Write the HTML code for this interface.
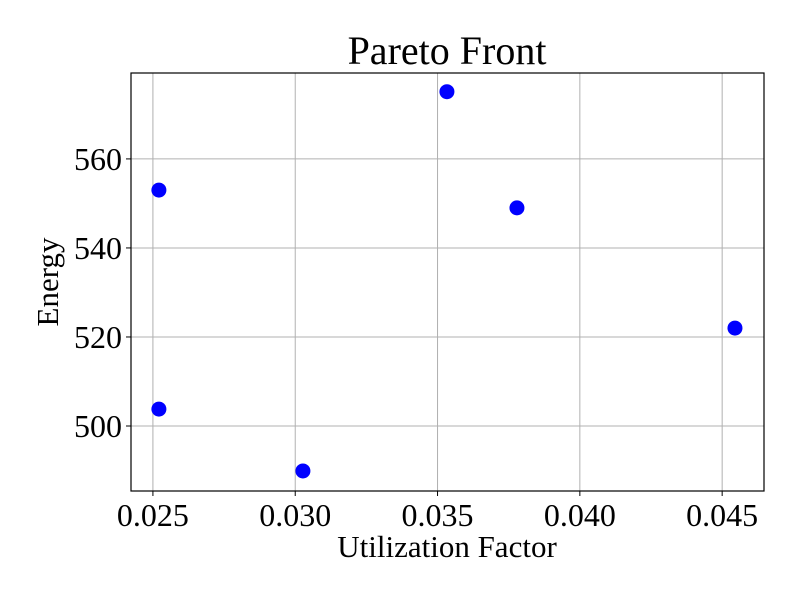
<!DOCTYPE html>
<html><head><meta charset="utf-8"><style>
html,body{margin:0;padding:0;background:#fff;}
svg text{font-family:"Liberation Serif",serif;fill:#000;}
</style></head><body>
<svg id="chart" width="800" height="600" xmlns="http://www.w3.org/2000/svg">
<rect width="800" height="600" fill="#fff"/>
<g id="grid"></g>
<g id="points"></g>
<rect x="131" y="73" width="633" height="418" fill="none" stroke="#000" stroke-width="1.2"/>
<g id="ticks"></g>
<text x="447" y="64" font-size="40" text-anchor="middle">Pareto Front</text>
<text x="447" y="557" font-size="31" text-anchor="middle">Utilization Factor</text>
<text transform="translate(58,282) rotate(-90)" font-size="31" text-anchor="middle">Energy</text>
</svg>
<script>
const xValues=[0.02521,0.02521,0.03027,0.03533,0.03779,0.04545];
const yValues=[553.0,503.8,489.9,575.1,549.0,522.0];
const xTicks=[0.025,0.030,0.035,0.040,0.045];
const xTickLabels=["0.025","0.030","0.035","0.040","0.045"];
const yTicks=[500,520,540,560];
const yTickLabels=["500","520","540","560"];

const L=131,R=764,T=73,B=491;
const xMin=0.02423,xMax=0.04647,yMin=485.4,yMax=579.3;
const sx=v=>L+(v-xMin)/(xMax-xMin)*(R-L);
const sy=v=>B-(v-yMin)/(yMax-yMin)*(B-T);
const NS="http://www.w3.org/2000/svg";
const grid=document.getElementById('grid'),ticks=document.getElementById('ticks'),pts=document.getElementById('points');
function mk(tag,attrs,parent){const e=document.createElementNS(NS,tag);for(const k in attrs)e.setAttribute(k,attrs[k]);parent.appendChild(e);return e;}
xTicks.forEach((v,i)=>{
  const x=sx(v);
  const g=mk('line',{x1:x,x2:x,y1:T,y2:B,stroke:'#b0b0b0','stroke-width':1},grid);
  
  
  const t=mk('line',{x1:x,x2:x,y1:B,y2:B+5,stroke:'#000','stroke-width':1},ticks);
  
  
  const tx=mk('text',{x:x,y:B+35,'font-size':32,'text-anchor':'middle'},ticks);
  tx.textContent=xTickLabels[i];
  
  
});
yTicks.forEach((v,i)=>{
  const y=sy(v);
  const g=mk('line',{x1:L,x2:R,y1:y,y2:y,stroke:'#b0b0b0','stroke-width':1},grid);
  
  
  const t=mk('line',{x1:L-5,x2:L,y1:y,y2:y,stroke:'#000','stroke-width':1},ticks);
  
  
  const tx=mk('text',{x:L-9,y:y+11,'font-size':32,'text-anchor':'end'},ticks);
  tx.textContent=yTickLabels[i];
  
  
});
xValues.forEach((v,i)=>{
  const c=mk('circle',{cx:sx(v),cy:sy(yValues[i]),r:7.5,fill:'#0000ff'},pts);
  
  
});
</script>
</body></html>
